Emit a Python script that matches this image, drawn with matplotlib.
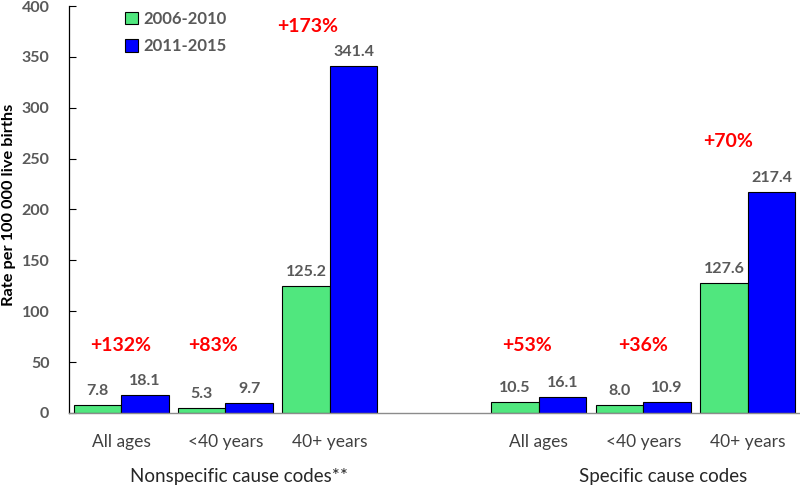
import matplotlib
matplotlib.use("Agg")
import matplotlib.pyplot as plt
import numpy as np

plt.rcParams['font.family'] = ['Lato', 'DejaVu Sans']

# ---- data ----
subgroups = ["All ages", "<40 years", "40+ years"]
groups = ["Nonspecific cause codes**", "Specific cause codes"]
series_names = ["2006-2010", "2011-2015"]
nonspecific_0610 = [7.8, 5.3, 125.2]
nonspecific_1115 = [18.1, 9.7, 341.4]
specific_0610 = [10.5, 8.0, 127.6]
specific_1115 = [16.1, 10.9, 217.4]
pct_labels = ["+132%", "+83%", "+173%", "+53%", "+36%", "+70%"]
yticks = [0, 50, 100, 150, 200, 250, 300, 350, 400]

# ---- layout ----
green = "#50E77E"
blue = "#0000FF"
gray = "#595959"
positions = [0, 1, 2, 4, 5, 6]
group_pos = [1.13, 5.19]
v0610 = nonspecific_0610 + specific_0610
v1115 = nonspecific_1115 + specific_1115
pct_y = [66, 66, 380, 66, 66, 267]
pct_dx = [0.0, -0.12, -0.21, -0.11, 0.0, -0.19]
w = 0.455

fig = plt.figure(figsize=(8, 4.88), dpi=100)
ax = fig.add_axes([0.086, 0.1537, 0.914, 0.834])

x = np.array(positions, dtype=float)
b1 = ax.bar(x - w / 2, v0610, width=w, color=green, edgecolor="black", linewidth=0.8,
            label=series_names[0])
b2 = ax.bar(x + w / 2, v1115, width=w, color=blue, edgecolor="black", linewidth=0.8,
            label=series_names[1])

for bars, vals in ((b1, v0610), (b2, v1115)):
    for rect, v in zip(bars, vals):
        ax.annotate(f"{v:.1f}", (rect.get_x() + rect.get_width() / 2, v),
                    xytext=(0, 5), textcoords="offset points", ha="center", va="bottom",
                    fontsize=11.5, fontweight="bold", color=gray)

for xi, dx, yv, t in zip(positions, pct_dx, pct_y, pct_labels):
    ax.text(xi + dx, yv, t, ha="center", va="center", fontsize=14,
            fontweight="bold", color="red")

ax.set_xlim(-0.5, 6.5)
ax.set_ylim(0, 400)
ax.set_yticks(yticks)
ax.set_yticklabels([str(t) for t in yticks], fontsize=11.5, fontweight="bold", color=gray)
ax.tick_params(axis="y", direction="in", length=5, width=0.8, pad=14, color="black")
ax.set_xticks(positions)
ax.set_xticklabels(subgroups + subgroups, fontsize=12.5, color="#404040")
ax.tick_params(axis="x", length=0, pad=15)

for s in ("top", "right"):
    ax.spines[s].set_visible(False)
ax.spines["left"].set_color("black")
ax.spines["left"].set_linewidth(0.9)
ax.spines["bottom"].set_color("#8c8c8c")
ax.spines["bottom"].set_linewidth(1.0)

fig.text(9 / 800, 1 - 205 / 488, "Rate per 100 000 live births", rotation=90,
         ha="center", va="center", fontsize=11.8, fontweight="bold", color="black")

# group labels
for gp, g in zip(group_pos, groups):
    ax.text(gp, -0.157, g, transform=ax.get_xaxis_transform(), ha="center",
            va="center", fontsize=13.5, color="#262626")

leg = ax.legend(loc="upper left", bbox_to_anchor=(0.056, 1.025), frameon=False,
                handlelength=0.8, handleheight=0.8, handletextpad=0.3,
                labelspacing=0.7, prop={"size": 12, "weight": "bold"})
for t in leg.get_texts():
    t.set_color(gray)

fig.savefig("out.png", dpi=100)
